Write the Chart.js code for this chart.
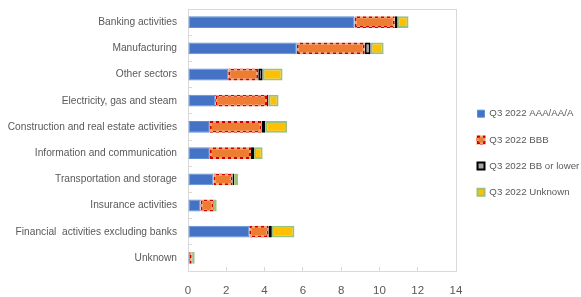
<!DOCTYPE html>
<html lang="en">
<head>
    <meta charset="UTF-8">
    <title>Exposures by sector and rating</title>
    <script src="https://cdn.jsdelivr.net/npm/chart.js"></script>
    <style>
        body {
            margin: 0;
            background: #fff;
        }

        #wrap {
            width: 581px;
            height: 297px;
        }
    </style>
</head>
<body>
    <div id="wrap">
        <canvas id="sectorChart"></canvas>
    </div>
    <script>
        const sectors = [
            'Banking activities',
            'Manufacturing',
            'Other sectors',
            'Electricity, gas and steam',
            'Construction and real estate activities',
            'Information and communication',
            'Transportation and storage',
            'Insurance activities',
            'Financial  activities excluding banks',
            'Unknown'
        ];
        const seriesNames = ['Q3 2022 AAA/AA/A', 'Q3 2022 BBB', 'Q3 2022 BB or lower', 'Q3 2022 Unknown'];
        const ratingA = [8.70, 5.68, 2.10, 1.42, 1.14, 1.14, 1.33, 0.65, 3.20, 0.10];
        const ratingBBB = [2.10, 3.55, 1.57, 2.71, 2.70, 2.15, 0.99, 0.68, 1.00, 0.09];
        const ratingBB = [0.15, 0.31, 0.23, 0.07, 0.20, 0.16, 0.09, 0.03, 0.18, 0.04];
        const ratingUnknown = [0.57, 0.68, 1.04, 0.53, 1.14, 0.45, 0.21, 0.14, 1.18, 0.12];
        const xTicks = [0, 2, 4, 6, 8, 10, 12, 14];

        const sans = "'Liberation Sans', Arial, sans-serif";

        // red dashed border: a checker pattern gives dashes on every edge
        function dashPattern(on, off) {
            const cv = document.createElement('canvas');
            cv.width = 6;
            cv.height = 6;
            const g = cv.getContext('2d');
            g.fillStyle = off;
            g.fillRect(0, 0, 6, 6);
            g.fillStyle = on;
            g.fillRect(0, 0, 3, 3);
            g.fillRect(3, 3, 3, 3);
            return g.createPattern(cv, 'repeat');
        }

        const frame = {
            id: 'frame',
            beforeDatasetsDraw(chart) {
                const a = chart.chartArea;
                const ctx = chart.ctx;
                ctx.save();
                ctx.strokeStyle = '#d9d9d9';
                ctx.lineWidth = 1;
                ctx.strokeRect(Math.round(a.left) + 0.5, Math.round(a.top) + 0.5,
                    Math.round(a.right - a.left), Math.round(a.bottom - a.top));
                ctx.restore();
            }
        };

        const common = { borderSkipped: false, barPercentage: 0.45, categoryPercentage: 1 };

        new Chart(document.getElementById('sectorChart'), {
            type: 'bar',
            data: {
                labels: sectors,
                datasets: [
                    { label: seriesNames[0], data: ratingA, backgroundColor: '#4472c4', borderColor: '#5b8fd6', borderWidth: 1, ...common },
                    { label: seriesNames[1], data: ratingBBB, backgroundColor: '#ed7d31', borderColor: dashPattern('#d00000', '#f0a070'), borderWidth: 2, ...common },
                    { label: seriesNames[2], data: ratingBB, backgroundColor: '#a5a5a5', borderColor: '#000000', borderWidth: 2, ...common },
                    { label: seriesNames[3], data: ratingUnknown, backgroundColor: '#ffc000', borderColor: '#9bc27a', borderWidth: 2, ...common }
                ]
            },
            options: {
                indexAxis: 'y',
                responsive: true,
                maintainAspectRatio: false,
                animation: false,
                layout: { padding: { top: 9, left: 0, right: 0, bottom: 0 } },
                plugins: {
                    tooltip: { enabled: false },
                    legend: {
                        position: 'right',
                        align: 'center',
                        maxWidth: 120,
                        labels: {
                            boxWidth: 7,
                            boxHeight: 7,
                            padding: 16.5,
                            color: '#595959',
                            font: { family: sans, size: 9.7 }
                        }
                    }
                },
                scales: {
                    x: {
                        stacked: true,
                        min: 0,
                        max: 14,
                        afterBuildTicks(scale) {
                            scale.ticks = xTicks.map(v => ({ value: v }));
                        },
                        afterFit(scale) {
                            scale.height = 26;
                        },
                        grid: { drawOnChartArea: false, tickLength: -4, color: '#d9d9d9' },
                        border: { display: false },
                        ticks: { color: '#595959', font: { family: sans, size: 11.5 }, padding: 17, maxRotation: 0 }
                    },
                    y: {
                        stacked: true,
                        afterFit(scale) {
                            scale.width = 188;
                            scale.paddingTop = 0;
                            scale.paddingBottom = 0;
                        },
                        grid: { drawOnChartArea: false, tickLength: -4, color: '#d9d9d9' },
                        border: { display: false },
                        ticks: { color: '#595959', font: { family: sans, size: 10.2 }, padding: 15 }
                    },
                    // empty spacer between the plot and the legend
                    gap: {
                        type: 'linear',
                        axis: 'y',
                        position: 'right',
                        display: true,
                        afterFit(scale) {
                            scale.width = 5;
                        },
                        grid: { display: false },
                        border: { display: false },
                        ticks: { display: false }
                    }
                }
            },
            plugins: [frame]
        });
    </script>
</body>
</html>
